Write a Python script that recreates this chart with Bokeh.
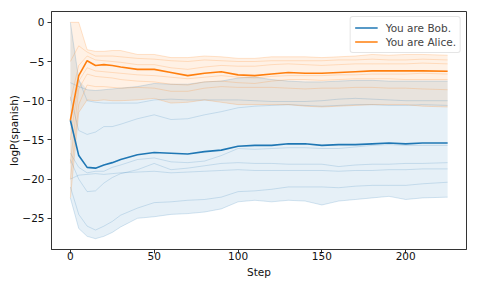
from bokeh.plotting import figure
from bokeh.models import Range1d, FixedTicker, Legend, LegendItem
from bokeh.embed import file_html
from bokeh.resources import INLINE

steps = [0, 5, 10, 15, 20, 25, 30, 40, 50, 60, 70, 80, 90, 100, 110, 120, 130, 140, 150, 160, 170, 180, 190, 200, 210, 225]

bob_mean = [-12.5, -17.0, -18.5, -18.6, -18.2, -17.9, -17.5, -16.9, -16.6, -16.7, -16.8, -16.5, -16.3, -15.8, -15.7, -15.7, -15.5, -15.5, -15.7, -15.6, -15.6, -15.5, -15.4, -15.5, -15.4, -15.4]
bob_upper = [0.0, -7.3, -8.6, -8.7, -8.6, -8.5, -8.4, -8.2, -7.8, -7.9, -7.9, -7.6, -7.5, -7.1, -7.0, -7.3, -7.5, -7.6, -7.6, -7.5, -7.4, -7.4, -7.5, -7.5, -7.5, -7.5]
bob_lower = [-22.4, -26.3, -27.3, -27.6, -27.3, -26.8, -26.1, -25.0, -24.8, -24.5, -24.4, -24.2, -23.8, -22.9, -22.7, -22.9, -22.7, -22.8, -23.3, -22.8, -22.6, -22.4, -22.2, -22.6, -22.4, -22.3]
bob_runs = [
    [-7.7, -8.2, -8.6, -8.7, -8.6, -8.5, -8.4, -8.2, -7.8, -7.9, -7.9, -7.6, -7.5, -7.1, -7.0, -7.3, -7.5, -7.6, -7.6, -7.5, -7.4, -7.4, -7.5, -7.5, -7.5, -7.5],
    [0.0, -7.3, -10.0, -10.2, -10.3, -10.3, -10.3, -10.3, -9.9, -9.8, -9.9, -9.9, -9.9, -9.9, -10.0, -10.1, -10.1, -10.1, -10.0, -9.8, -9.7, -9.8, -9.9, -10.0, -10.0, -10.0],
    [-9.5, -13.8, -14.3, -14.0, -13.3, -13.3, -13.0, -12.3, -11.8, -12.4, -12.3, -11.8, -11.4, -10.9, -10.7, -10.6, -10.5, -10.6, -10.7, -10.6, -10.5, -10.5, -10.6, -10.6, -10.5, -10.6],
    [-16.7, -18.5, -19.2, -19.0, -19.0, -18.5, -18.2, -17.5, -17.3, -17.8, -17.9, -17.7, -17.0, -16.1, -16.2, -16.1, -16.0, -16.0, -16.1, -16.1, -15.9, -15.7, -15.6, -15.7, -15.7, -15.7],
    [-20.0, -19.5, -19.4, -19.3, -19.4, -19.3, -19.2, -19.1, -19.0, -19.2, -19.1, -19.0, -18.9, -18.8, -18.9, -18.9, -18.9, -18.9, -18.9, -19.0, -18.9, -18.9, -18.8, -18.8, -18.7, -18.7],
    [-17.5, -20.0, -21.6, -21.5, -20.5, -19.8, -19.3, -18.8, -18.0, -18.8, -18.6, -18.3, -18.0, -17.9, -18.0, -18.0, -18.1, -18.1, -18.1, -18.4, -18.2, -18.1, -18.1, -18.0, -18.0, -17.9],
    [-21.0, -24.5, -26.0, -26.5, -26.0, -25.4, -24.6, -23.7, -23.0, -22.9, -22.7, -22.6, -22.3, -21.6, -21.5, -21.3, -21.0, -21.0, -21.0, -21.1, -20.9, -20.8, -20.8, -20.8, -20.6, -20.4],
    [-22.4, -26.3, -27.3, -27.6, -27.3, -26.8, -26.1, -25.0, -24.8, -24.5, -24.4, -24.2, -23.8, -22.9, -22.7, -22.9, -22.7, -22.8, -23.3, -22.8, -22.6, -22.4, -22.2, -22.6, -22.4, -22.3],
]

alice_mean = [-12.5, -6.8, -4.9, -5.5, -5.4, -5.5, -5.7, -6.0, -6.0, -6.4, -6.8, -6.5, -6.3, -6.7, -6.8, -6.6, -6.4, -6.5, -6.5, -6.4, -6.3, -6.2, -6.2, -6.2, -6.2, -6.25]
alice_upper = [0.0, 0.0, -3.5, -3.7, -3.7, -3.6, -3.6, -4.1, -4.1, -4.5, -4.5, -4.3, -4.4, -4.6, -4.6, -4.4, -4.4, -4.4, -4.5, -4.4, -4.3, -4.1, -4.2, -4.1, -4.1, -4.2]
alice_lower = [-22.4, -11.5, -9.9, -10.0, -9.9, -10.0, -10.0, -9.9, -9.7, -10.3, -10.2, -9.9, -10.2, -10.5, -10.5, -10.5, -10.5, -10.7, -10.8, -10.7, -10.6, -10.5, -10.5, -10.5, -10.7, -10.8]
alice_runs = [
    [0.0, 0.0, -3.5, -3.7, -3.7, -3.6, -3.6, -4.1, -4.1, -4.5, -4.5, -4.3, -4.4, -4.6, -4.6, -4.4, -4.4, -4.4, -4.5, -4.4, -4.3, -4.1, -4.2, -4.1, -4.1, -4.2],
    [-5.0, -3.0, -3.8, -4.3, -4.3, -4.3, -4.4, -4.6, -4.7, -4.9, -5.0, -4.8, -4.9, -5.0, -5.0, -4.9, -4.9, -4.9, -4.9, -4.8, -4.8, -4.7, -4.8, -4.8, -4.7, -4.8],
    [-10.0, -5.5, -4.3, -4.8, -4.9, -5.0, -5.1, -5.4, -5.4, -5.8, -6.0, -5.7, -5.5, -5.6, -5.6, -5.4, -5.3, -5.4, -5.5, -5.4, -5.3, -5.3, -5.3, -5.3, -5.2, -5.3],
    [-15.0, -7.5, -5.8, -6.2, -6.3, -6.4, -6.5, -6.7, -6.8, -7.0, -7.2, -7.0, -6.8, -7.0, -7.1, -6.9, -6.8, -6.8, -6.8, -6.7, -6.7, -6.6, -6.6, -6.6, -6.5, -6.6],
    [-18.0, -8.5, -6.6, -6.9, -7.0, -7.1, -7.3, -7.5, -7.6, -7.9, -8.0, -7.6, -7.5, -7.7, -7.8, -7.5, -7.3, -7.3, -7.4, -7.3, -7.2, -7.2, -7.2, -7.3, -7.3, -7.3],
    [-20.0, -10.5, -8.0, -8.2, -8.2, -8.3, -8.4, -8.3, -8.4, -8.8, -8.8, -8.4, -8.2, -8.3, -8.3, -8.3, -8.4, -8.5, -8.4, -8.4, -8.3, -8.3, -8.4, -8.4, -8.5, -8.6],
    [-22.4, -11.5, -9.9, -10.0, -9.9, -10.0, -10.0, -9.9, -9.7, -10.3, -10.2, -9.9, -10.2, -10.5, -10.5, -10.5, -10.5, -10.7, -10.8, -10.7, -10.6, -10.5, -10.5, -10.5, -10.7, -10.8],
]

x_ticks = [0, 50, 100, 150, 200]
y_ticks = [0, -5, -10, -15, -20, -25]
labels = ["You are Bob.", "You are Alice."]

BLUE = "#1f77b4"
ORANGE = "#ff7f0e"
FONT = "DejaVu Sans"
FS = "10.5px"

p = figure(width=478, height=287, output_backend="svg", toolbar_location=None,
           x_range=Range1d(-11.25, 236.25), y_range=Range1d(-28.98, 1.38),
           min_border_left=51, min_border_right=12, min_border_top=11, min_border_bottom=38)
p.xgrid.visible = False
p.ygrid.visible = False
p.outline_line_color = "#333333"
p.outline_line_width = 1

p.varea(x=steps, y1=bob_lower, y2=bob_upper, fill_color=BLUE, fill_alpha=0.11)
p.varea(x=steps, y1=alice_lower, y2=alice_upper, fill_color=ORANGE, fill_alpha=0.11)
for r in bob_runs:
    p.line(steps, r, line_color=BLUE, line_alpha=0.18, line_width=1)
for r in alice_runs:
    p.line(steps, r, line_color=ORANGE, line_alpha=0.2, line_width=1)
rb = p.line(steps, bob_mean, line_color=BLUE, line_width=1.6)
ra = p.line(steps, alice_mean, line_color=ORANGE, line_width=1.6)

legend = Legend(items=[LegendItem(label=labels[0], renderers=[rb]),
                       LegendItem(label=labels[1], renderers=[ra])],
                location="top_right")
legend.label_text_font = FONT
legend.label_text_font_size = FS
legend.glyph_width = 23
legend.glyph_height = 13
legend.label_height = 13
legend.label_standoff = 8
legend.spacing = 1
legend.padding = 4
legend.margin = 5
legend.border_line_color = "#cccccc"
legend.border_radius = 3
legend.background_fill_alpha = 0.85
p.add_layout(legend)

for ax in (p.xaxis[0], p.yaxis[0]):
    ax.axis_line_color = "#333333"
    ax.major_tick_line_color = "#333333"
    ax.major_tick_out = 4
    ax.major_tick_in = 0
    ax.minor_tick_line_color = None
    ax.major_label_text_font = FONT
    ax.major_label_text_font_size = FS
    ax.major_label_text_color = "#111111"
    ax.axis_label_text_font = FONT
    ax.axis_label_text_font_size = FS
    ax.axis_label_text_font_style = "normal"
    ax.axis_label_text_color = "#111111"

p.xaxis.major_label_standoff = -2
p.xaxis.axis_label_standoff = 3
p.yaxis.major_label_standoff = 3
p.yaxis.axis_label_standoff = -1

p.xaxis.ticker = FixedTicker(ticks=x_ticks)
p.yaxis.ticker = FixedTicker(ticks=y_ticks)
p.yaxis.major_label_overrides = {t: (str(t).replace("-", "\u2212")) for t in y_ticks}
p.xaxis.axis_label = "Step"
p.yaxis.axis_label = "logP(spanish)"

open("out.html", "w").write(file_html(p, INLINE))
